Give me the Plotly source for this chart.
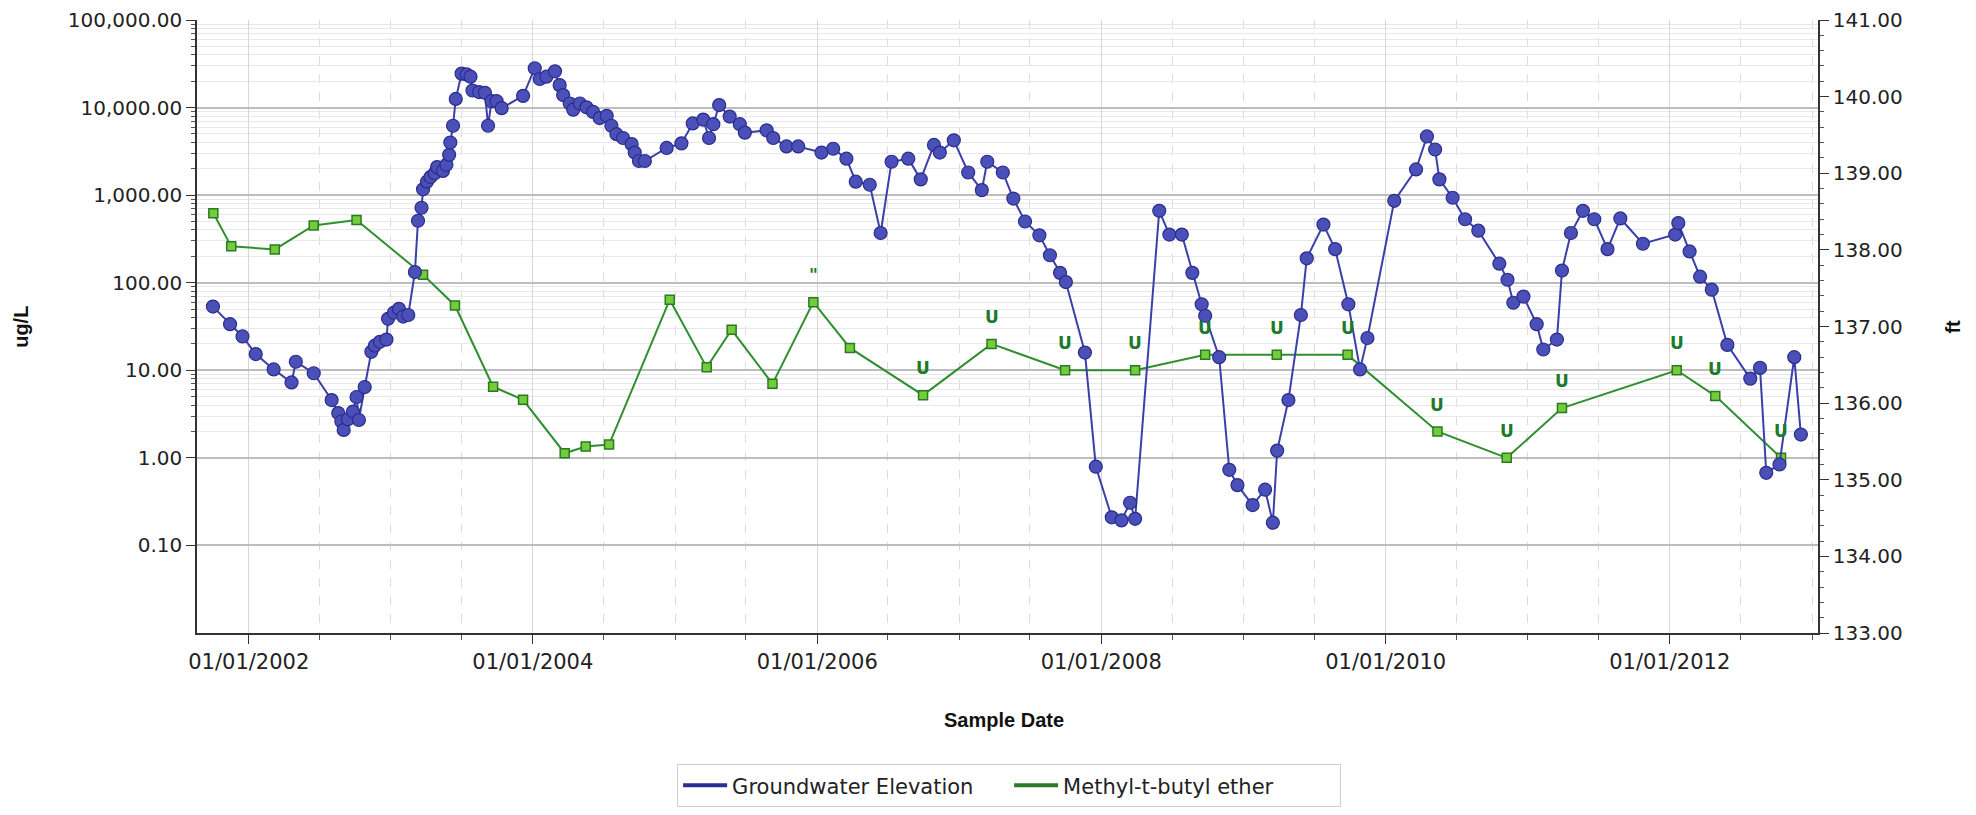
import math
import plotly.graph_objects as go

# ---------------- data ----------------
gw_dates = [
    "2001-10-01", "2001-11-14", "2001-12-16", "2002-01-19", "2002-03-06", "2002-04-21", "2002-05-02",
    "2002-06-17", "2002-08-02", "2002-08-19", "2002-08-27", "2002-09-02", "2002-09-13", "2002-09-26",
    "2002-10-05", "2002-10-11", "2002-10-26", "2002-11-12", "2002-11-21", "2002-12-04", "2002-12-21",
    "2002-12-25", "2003-01-09", "2003-01-22", "2003-02-02", "2003-02-15", "2003-03-04", "2003-03-12",
    "2003-03-21", "2003-03-25", "2003-04-04", "2003-04-13", "2003-04-24", "2003-04-30", "2003-05-15",
    "2003-05-24", "2003-05-31", "2003-06-03", "2003-06-10", "2003-06-17", "2003-07-02", "2003-07-15",
    "2003-07-25", "2003-07-30", "2003-08-16", "2003-08-31", "2003-09-08", "2003-09-17", "2003-09-30",
    "2003-10-13", "2003-12-07", "2004-01-06", "2004-01-19", "2004-02-05", "2004-02-27", "2004-03-10",
    "2004-03-19", "2004-04-05", "2004-04-14", "2004-05-01", "2004-05-18", "2004-06-04", "2004-06-21",
    "2004-07-09", "2004-07-21", "2004-08-03", "2004-08-20", "2004-09-11", "2004-09-19", "2004-09-30",
    "2004-10-15", "2004-12-10", "2005-01-17", "2005-02-15", "2005-03-14", "2005-03-29", "2005-04-09",
    "2005-04-24", "2005-05-21", "2005-06-16", "2005-06-29", "2005-08-24", "2005-09-10", "2005-10-14",
    "2005-11-13", "2006-01-12", "2006-02-11", "2006-03-17", "2006-04-10", "2006-05-16", "2006-06-13",
    "2006-07-11", "2006-08-23", "2006-09-24", "2006-10-28", "2006-11-12", "2006-12-18", "2007-01-24",
    "2007-02-28", "2007-03-14", "2007-04-23", "2007-05-20", "2007-06-19", "2007-07-26", "2007-08-22",
    "2007-09-17", "2007-10-02", "2007-11-20", "2007-12-18", "2008-01-28", "2008-02-22", "2008-03-15",
    "2008-03-28", "2008-05-29", "2008-06-24", "2008-07-26", "2008-08-22", "2008-09-15", "2008-09-24",
    "2008-10-30", "2008-11-25", "2008-12-16", "2009-01-24", "2009-02-25", "2009-03-17", "2009-03-28",
    "2009-04-26", "2009-05-28", "2009-06-12", "2009-07-25", "2009-08-24", "2009-09-27", "2009-10-27",
    "2009-11-15", "2010-01-23", "2010-03-20", "2010-04-17", "2010-05-08", "2010-05-19", "2010-06-22",
    "2010-07-24", "2010-08-27", "2010-10-20", "2010-11-10", "2010-11-25", "2010-12-21", "2011-01-24",
    "2011-02-10", "2011-03-17", "2011-03-30", "2011-04-22", "2011-05-23", "2011-06-21", "2011-07-25",
    "2011-08-27", "2011-10-24", "2012-01-15", "2012-01-23", "2012-02-21", "2012-03-19", "2012-04-18",
    "2012-05-28", "2012-07-26", "2012-08-20", "2012-09-05", "2012-10-09", "2012-11-16", "2012-12-03",
]
gw_ft = [
    137.26, 137.03, 136.87, 136.64, 136.44, 136.27, 136.54,
    136.39, 136.04, 135.87, 135.76, 135.65, 135.79, 135.89,
    136.08, 135.78, 136.21, 136.67, 136.75, 136.80, 136.83,
    137.10, 137.18, 137.23, 137.13, 137.15, 137.71, 138.38,
    138.55, 138.79, 138.89, 138.95, 139.00, 139.08, 139.03,
    139.11, 139.24, 139.40, 139.62, 139.97, 140.30, 140.29,
    140.26, 140.08, 140.06, 140.05, 139.62, 139.94, 139.94,
    139.85, 140.01, 140.37, 140.23, 140.26, 140.33, 140.15,
    140.02, 139.91, 139.83, 139.91, 139.86, 139.80, 139.72,
    139.75, 139.62, 139.51, 139.46, 139.38, 139.27, 139.16,
    139.16, 139.33, 139.39, 139.65, 139.70, 139.46, 139.64,
    139.89, 139.74, 139.64, 139.53, 139.56, 139.46, 139.35,
    139.35, 139.27, 139.32, 139.19, 138.89, 138.85, 138.22,
    139.15, 139.19, 138.92, 139.37, 139.27, 139.43, 139.01,
    138.78, 139.15, 139.01, 138.67, 138.37, 138.19, 137.93,
    137.70, 137.58, 136.66, 135.17, 134.51, 134.47, 134.70,
    134.49, 138.51, 138.20, 138.20, 137.70, 137.29, 137.14,
    136.60, 135.13, 134.93, 134.67, 134.87, 134.44, 135.38,
    136.04, 137.15, 137.89, 138.33, 138.01, 137.29, 136.44,
    136.85, 138.64, 139.05, 139.48, 139.31, 138.92, 138.68,
    138.40, 138.25, 137.82, 137.61, 137.31, 137.39, 137.03,
    136.70, 136.83, 137.73, 138.22, 138.51, 138.40, 138.01,
    138.41, 138.08, 138.20, 138.35, 137.98, 137.65, 137.48,
    136.76, 136.32, 136.46, 135.09, 135.20, 136.60, 135.59,
]

mtbe_dates = [
    "2001-10-02", "2001-11-17", "2002-03-09", "2002-06-17", "2002-10-05", "2003-03-25",
    "2003-06-15", "2003-09-21", "2003-12-07", "2004-03-23", "2004-05-16", "2004-07-15",
    "2004-12-18", "2005-03-23", "2005-05-26", "2005-09-08", "2005-12-22", "2006-03-26",
    "2006-09-30", "2007-03-25", "2007-09-30", "2008-03-28", "2008-09-24", "2009-03-27",
    "2009-09-25", "2010-05-14", "2010-11-08", "2011-03-30", "2012-01-19", "2012-04-27",
    "2012-10-13",
]
mtbe_ugl = [
    620, 260, 240, 450, 520, 123,
    55, 6.5, 4.6, 1.13, 1.35, 1.42,
    64, 10.8, 29, 7.0, 60, 18,
    5.2, 20, 10, 10, 15, 15,
    15, 2.0, 1.0, 3.7, 10, 5.1,
    1.0,
]
mtbe_qual = [
    "", "", "", "", "", "",
    "", "", "", "", "", "",
    "", "", "", "", "\"", "",
    "U", "U", "U", "U", "U", "U",
    "U", "U", "U", "U", "U", "U",
    "U",
]

left_tickvals = [0.1, 1, 10, 100, 1000, 10000, 100000]
left_ticktext = ["0.10", "1.00", "10.00", "100.00", "1,000.00", "10,000.00", "100,000.00"]
right_tickvals = [133, 134, 135, 136, 137, 138, 139, 140, 141]

# ---------------- style ----------------
BLUE_LINE = "#3a40a8"
BLUE_FILL = "#4a50b8"
BLUE_EDGE = "#2a2d8c"
GREEN_LINE = "#2f8f2f"
GREEN_FILL = "#72cc3c"
GREEN_EDGE = "#2a7a22"
QUAL_COLOR = "#1d7a2a"
FONT = "DejaVu Sans"

fig = go.Figure()

# MTBE (left log axis)
fig.add_trace(go.Scatter(
    x=mtbe_dates, y=mtbe_ugl, mode="lines+markers", yaxis="y",
    line=dict(color=GREEN_LINE, width=2),
    marker=dict(symbol="square", size=9, color=GREEN_FILL, line=dict(color=GREEN_EDGE, width=1.5)),
    showlegend=False, name="Methyl-t-butyl ether",
))
# Groundwater elevation (right axis)
fig.add_trace(go.Scatter(
    x=gw_dates, y=gw_ft, mode="lines+markers", yaxis="y2",
    line=dict(color=BLUE_LINE, width=2),
    marker=dict(symbol="circle", size=13, color=BLUE_FILL, line=dict(color=BLUE_EDGE, width=1.2)),
    showlegend=False, name="Groundwater Elevation",
))
# legend entries (line only)
fig.add_trace(go.Scatter(x=[None], y=[None], mode="lines", name="Groundwater Elevation",
                         line=dict(color="#2a2f8f", width=4), yaxis="y2"))
fig.add_trace(go.Scatter(x=[None], y=[None], mode="lines", name="Methyl-t-butyl ether",
                         line=dict(color="#2a7a2a", width=4), yaxis="y"))

# qualifier labels
annotations = []
for d, v, q in zip(mtbe_dates, mtbe_ugl, mtbe_qual):
    if q:
        annotations.append(dict(
            x=d, y=math.log10(v), xref="x", yref="y", text="<b>%s</b>" % q,
            showarrow=False, yshift=27, yanchor="middle",
            font=dict(family=FONT, size=17, color=QUAL_COLOR),
        ))

# axis titles
annotations += [
    dict(text="<b>Sample Date</b>", x=0.498, y=-0.142, xref="paper", yref="paper",
         showarrow=False, yanchor="middle", font=dict(family="Liberation Sans", size=20, color="#111")),
    dict(text="<b>ug/L</b>", x=-0.109, y=0.5, xref="paper", yref="paper", textangle=-90,
         showarrow=False, xanchor="center", yanchor="middle", font=dict(family="Liberation Sans", size=20, color="#111")),
    dict(text="<b>ft</b>", x=1.0827, y=0.5, xref="paper", yref="paper", textangle=-90,
         showarrow=False, xanchor="center", yanchor="middle", font=dict(family="Liberation Sans", size=20, color="#111")),
]

minor_left = [m * 10 ** k for k in range(0, 5) for m in range(2, 10)]

fig.update_layout(
    width=1976, height=815,
    margin=dict(l=197, r=158, t=20, b=182, autoexpand=False),
    paper_bgcolor="white", plot_bgcolor="white",
    font=dict(family=FONT, size=20, color="#222"),
    showlegend=True,
    legend=dict(orientation="h", x=0.501, y=-0.214, xanchor="center", yanchor="top",
                bordercolor="#cfcfcf", borderwidth=1, bgcolor="white",
                font=dict(family=FONT, size=21, color="#222"), itemwidth=44,
                entrywidth=272, entrywidthmode="pixels"),
    xaxis=dict(
        type="date", range=["2001-08-21", "2013-01-16"],
        tick0="2002-01-01", dtick="M24", tickformat="%m/%d/%Y",
        ticks="outside", ticklen=9, tickcolor="#333",
        showline=True, linecolor="#333", linewidth=1.5,
        showgrid=True, gridcolor="#d6d6d6", gridwidth=1,
        zeroline=False,
        minor=dict(tick0="2002-01-01", dtick="M6", ticks="outside", ticklen=5, tickcolor="#555",
                   showgrid=True, gridcolor="#dcdcdc", griddash="dash", gridwidth=1),
        tickfont=dict(family=FONT, size=21, color="#222"),
    ),
    yaxis=dict(
        type="log", range=[-2, 5],
        tickvals=left_tickvals, ticktext=left_ticktext,
        ticks="outside", ticklen=9, tickcolor="#333",
        showline=True, linecolor="#333", linewidth=1.5,
        showgrid=True, gridcolor="#bdbdbd", gridwidth=2,
        zeroline=False,
        minor=dict(tickvals=minor_left, ticks="outside", ticklen=4, tickcolor="#555",
                   showgrid=True, gridcolor="#e8e8e8", gridwidth=1),
        tickfont=dict(family=FONT, size=20, color="#222"),
    ),
    yaxis2=dict(
        overlaying="y", side="right", range=[133, 141],
        tickvals=right_tickvals, tickformat=".2f",
        ticks="outside", ticklen=9, tickcolor="#333",
        showline=True, linecolor="#333", linewidth=1.5,
        showgrid=False, zeroline=False,
        minor=dict(dtick=0.2, tick0=133, ticks="outside", ticklen=4, tickcolor="#555", showgrid=False),
        tickfont=dict(family=FONT, size=20, color="#222"),
    ),
    annotations=annotations,
)

fig.write_html("out.html")
